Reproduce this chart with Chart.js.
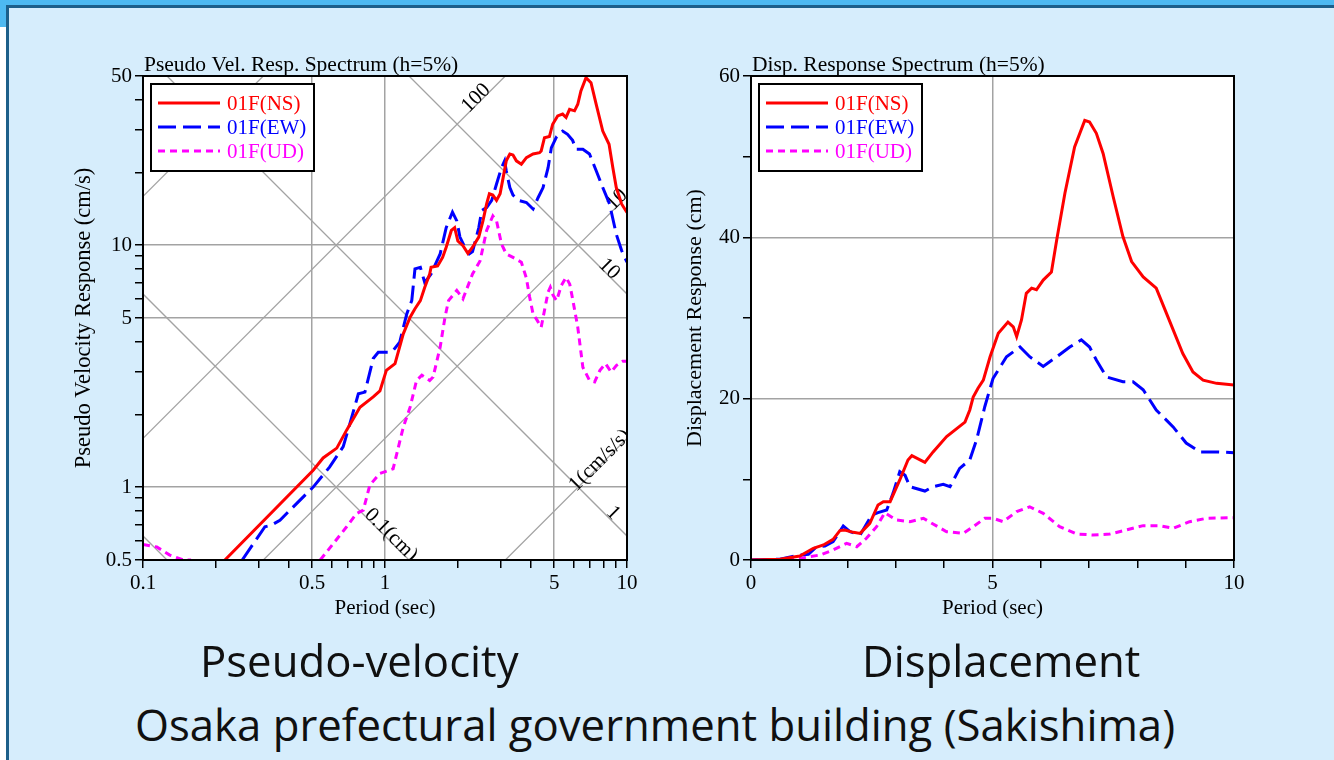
<!DOCTYPE html>
<html>
<head>
<meta charset="utf-8">
<title>Response spectra</title>
<script src="https://cdn.jsdelivr.net/npm/chart.js@4.4.1/dist/chart.umd.min.js"></script>
<style>
  html, body { margin: 0; padding: 0; }
  body { width: 1334px; height: 760px; overflow: hidden; background: #ffffff; position: relative; font-family: 'Open Sans', sans-serif; }
  #topband { position: absolute; left: 0; top: 0; width: 1334px; height: 8px; background: #4db9f1; }
  #leftband { position: absolute; left: 0; top: 0; width: 8px; height: 27px; background: #4db9f1; }
  #panel { position: absolute; left: 6px; top: 5px; right: 0; bottom: 0; background: #d6edfc; border-top: 3px solid #1c5f8a; border-left: 3px solid #1c5f8a; }
  canvas { position: absolute; }
  #pv { left: 40px; top: 40px; }
  #ds { left: 650px; top: 40px; }
  .cap { position: absolute; color: #101010; font-size: 43.7px; line-height: 43px; white-space: nowrap; }
</style>
</head>
<body>
<div id="topband"></div>
<div id="leftband"></div>
<div id="panel"></div>
<canvas id="pv" width="620" height="600"></canvas>
<canvas id="ds" width="620" height="600"></canvas>
<div class="cap" style="left:200px; top:639px;">Pseudo-velocity</div>
<div class="cap" style="left:862px; top:639px;">Displacement</div>
<div class="cap" style="left:135px; top:703px;">Osaka prefectural government building (Sakishima)</div>

<script>
// ---- Pseudo velocity response spectrum (h=5%), period in sec, Sv in cm/s ----
const pvPeriodNS = [0.218, 0.505, 0.555, 0.632, 0.694, 0.788, 0.894, 0.953, 1.013, 1.10, 1.19, 1.27, 1.33, 1.40, 1.46, 1.53, 1.55, 1.65, 1.73, 1.79, 1.88, 1.94, 2.0, 2.10, 2.20, 2.30, 2.44, 2.54, 2.63, 2.70, 2.79, 2.89, 2.99, 3.08, 3.17, 3.28, 3.38, 3.49, 3.66, 3.84, 4.09, 4.35, 4.42, 4.56, 4.78, 4.93, 5.17, 5.42, 5.6, 5.79, 6.07, 6.26, 6.45, 6.77, 7.1, 7.46, 7.94, 8.43, 8.74, 9.03, 9.5, 10.0];
const pvNS       = [0.5, 1.175, 1.32, 1.45, 1.72, 2.14, 2.36, 2.5, 3.04, 3.24, 4.3, 5.04, 5.46, 5.9, 6.7, 7.6, 8.1, 8.2, 8.9, 9.8, 11.5, 11.8, 10.4, 9.95, 9.25, 9.8, 10.8, 12.6, 14.8, 16.3, 16.1, 15.3, 16.3, 19.1, 22.3, 23.8, 23.6, 22.3, 21.6, 23.0, 23.8, 24.1, 24.5, 27.8, 28.1, 31.6, 34.2, 34.8, 33.7, 36.4, 35.9, 38.2, 43.4, 49.2, 46.9, 38.2, 29.6, 26.1, 20.9, 17.3, 14.8, 13.65];

const pvPeriodEW = [0.257, 0.319, 0.34, 0.368, 0.432, 0.506, 0.59, 0.672, 0.716, 0.776, 0.826, 0.894, 0.938, 1.05, 1.08, 1.15, 1.23, 1.29, 1.33, 1.40, 1.46, 1.55, 1.69, 1.79, 1.9, 1.98, 2.04, 2.14, 2.23, 2.30, 2.44, 2.51, 2.63, 2.76, 2.89, 3.03, 3.12, 3.17, 3.28, 3.38, 3.6, 3.84, 4.09, 4.29, 4.5, 4.72, 4.87, 5.12, 5.42, 5.68, 5.96, 6.16, 6.57, 7.0, 7.46, 7.94, 8.47, 9.03, 9.5, 10.0];
const pvEW       = [0.5, 0.686, 0.697, 0.73, 0.857, 1.003, 1.21, 1.47, 1.83, 2.43, 2.47, 3.4, 3.61, 3.61, 3.67, 3.97, 5.2, 5.9, 7.98, 8.1, 7.0, 7.6, 9.2, 11.8, 13.7, 12.6, 10.8, 9.8, 9.2, 9.4, 11.8, 13.9, 14.3, 15.3, 17.9, 20.9, 22.3, 20.3, 17.3, 16.1, 15.26, 15.0, 14.1, 15.7, 17.3, 20.9, 25.3, 28.1, 29.6, 28.7, 27.1, 24.9, 24.9, 23.8, 20.3, 17.3, 14.8, 11.1, 9.5, 8.5];

// null marks the stretch where the UD curve runs below the 0.5 cm/s floor
const pvPeriodUD = [0.1, 0.114, 0.129, 0.147, 0.158, 0.3, 0.54, 0.612, 0.694, 0.763, 0.813, 0.866, 0.953, 1.08, 1.19, 1.27, 1.35, 1.42, 1.53, 1.58, 1.69, 1.77, 1.83, 1.98, 2.10, 2.30, 2.47, 2.63, 2.79, 2.89, 3.03, 3.17, 3.38, 3.66, 3.84, 3.96, 4.09, 4.25, 4.42, 4.56, 4.72, 4.82, 4.95, 5.12, 5.35, 5.6, 5.8, 5.96, 6.26, 6.57, 7.0, 7.35, 7.73, 8.15, 8.6, 9.03, 9.6, 10.0];
const pvUD       = [0.58, 0.566, 0.524, 0.5, 0.5, null, 0.5, 0.585, 0.686, 0.778, 0.803, 1.02, 1.14, 1.19, 1.77, 2.14, 2.76, 2.9, 2.76, 2.85, 3.79, 5.04, 5.9, 6.5, 6.0, 7.6, 8.6, 11.5, 13.2, 12.6, 10.1, 9.2, 8.9, 8.5, 7.3, 6.1, 5.2, 4.9, 4.58, 5.37, 6.4, 6.7, 6.2, 5.9, 6.8, 7.36, 6.9, 6.0, 4.58, 3.13, 2.76, 2.72, 3.04, 3.24, 2.99, 3.18, 3.31, 3.31];

// ---- Displacement response spectrum (h=5%), period in sec, Sd in cm ----
const dsPeriodNS = [0, 0.6, 1.01, 1.29, 1.5, 1.70, 1.84, 1.94, 2.12, 2.26, 2.46, 2.63, 2.74, 2.88, 3.08, 3.25, 3.33, 3.6, 3.77, 4.05, 4.43, 4.53, 4.6, 4.70, 4.81, 4.95, 5.12, 5.32, 5.43, 5.50, 5.6, 5.70, 5.81, 5.91, 6.05, 6.22, 6.33, 6.5, 6.70, 6.91, 7.01, 7.15, 7.29, 7.50, 7.70, 7.88, 8.12, 8.39, 8.60, 8.94, 9.15, 9.36, 9.64, 10.0];
const dsNS       = [0, 0.09, 0.5, 1.45, 1.86, 2.56, 3.64, 3.72, 3.43, 3.3, 4.55, 6.82, 7.23, 7.23, 9.92, 12.4, 12.93, 12.1, 13.4, 15.3, 17.1, 18.6, 20.2, 21.3, 22.3, 25.2, 28.1, 29.5, 28.9, 27.7, 29.75, 33.06, 33.7, 33.5, 34.7, 35.7, 39.7, 45.5, 51.2, 54.5, 54.3, 52.9, 50.4, 45.0, 40.1, 37.0, 35.1, 33.7, 30.6, 25.6, 23.3, 22.3, 21.9, 21.7];

const dsPeriodEW = [0, 0.6, 1.01, 1.19, 1.36, 1.53, 1.70, 1.91, 2.05, 2.26, 2.50, 2.63, 2.81, 2.94, 3.08, 3.19, 3.29, 3.6, 3.77, 3.98, 4.12, 4.32, 4.53, 4.67, 4.84, 5.01, 5.29, 5.57, 5.77, 6.05, 6.33, 6.6, 6.84, 7.01, 7.15, 7.36, 7.7, 7.91, 8.12, 8.39, 8.74, 9.01, 9.29, 9.64, 10.0];
const dsEW       = [0, 0.1, 0.62, 0.70, 1.65, 1.74, 2.27, 4.21, 3.51, 3.1, 5.58, 5.87, 6.2, 8.26, 10.95, 10.5, 9.09, 8.55, 9.09, 9.38, 9.09, 11.36, 12.4, 14.9, 19.0, 22.5, 25.2, 26.4, 25.2, 24.0, 25.2, 26.4, 27.3, 26.4, 24.8, 22.7, 22.1, 22.1, 21.1, 18.6, 16.5, 14.5, 13.4, 13.4, 13.3];

const dsPeriodUD = [0, 0.6, 1.01, 1.43, 1.70, 1.98, 2.19, 2.39, 2.60, 2.77, 3.01, 3.29, 3.57, 3.77, 4.05, 4.39, 4.6, 4.84, 5.01, 5.22, 5.5, 5.77, 6.05, 6.39, 6.74, 7.08, 7.43, 7.77, 8.12, 8.46, 8.74, 9.08, 9.43, 10.0];
const dsUD       = [0, 0.05, 0.2, 0.62, 1.24, 2.07, 1.65, 2.69, 4.13, 5.87, 4.96, 4.75, 5.17, 4.46, 3.51, 3.3, 4.13, 5.17, 5.17, 4.75, 6.0, 6.6, 5.78, 4.13, 3.22, 3.1, 3.22, 3.72, 4.26, 4.26, 3.93, 4.75, 5.17, 5.25];

// ---- axis ticks, labels and grid values ----
const pvPeriodTicks  = [0.1, 0.2, 0.3, 0.4, 0.5, 0.6, 0.7, 0.8, 0.9, 1, 2, 3, 4, 5, 6, 7, 8, 9, 10];
const pvPeriodLabels = [0.1, 0.5, 1, 5, 10];
const pvPeriodGrid   = [0.5, 1, 5];
const pvVelTicks     = [0.5, 0.6, 0.7, 0.8, 0.9, 1, 2, 3, 4, 5, 6, 7, 8, 9, 10, 20, 30, 40, 50];
const pvVelLabels    = [0.5, 1, 5, 10, 50];
const pvVelGrid      = [1, 5, 10];

const dsPeriodTicks  = [0, 1, 2, 3, 4, 5, 6, 7, 8, 9, 10];
const dsPeriodLabels = [0, 5, 10];
const dsPeriodGrid   = [5];
const dsDispTicks    = [0, 10, 20, 30, 40, 50, 60];
const dsDispLabels   = [0, 20, 40, 60];
const dsDispGrid     = [20, 40];

// tripartite guide lines: constant displacement (cm) and constant acceleration (cm/s/s)
const guideDisp  = [0.01, 0.1, 1, 10];
const guideAccel = [1, 10, 100, 1000];

const seriesNames = ['01F(NS)', '01F(EW)', '01F(UD)'];

// ---------------------------------------------------------------------
const SERIF = "'Liberation Serif', 'Times New Roman', serif";
Chart.defaults.font.family = SERIF;
Chart.defaults.font.size = 21;
Chart.defaults.color = '#000000';

const SERIES_STYLE = [
  { color: '#ff0000', dash: [] },
  { color: '#0000ff', dash: [18, 7] },
  { color: '#ff00ff', dash: [7, 5] }
];
const GRID_COLOR = '#a3a3a3';

const toPoints = (xs, ys) => xs.map((x, i) => ({ x: x, y: ys[i] }));

function makeDatasets(sets) {
  return sets.map((pts, i) => ({
    label: seriesNames[i],
    data: pts,
    borderColor: SERIES_STYLE[i].color,
    borderDash: SERIES_STYLE[i].dash,
    borderWidth: 3,
    pointRadius: 0,
    fill: false,
    tension: 0,
    spanGaps: false,
    clip: 0
  }));
}

function makeAxis(o) {
  return {
    type: o.type,
    position: o.position,
    min: o.min,
    max: o.max,
    afterBuildTicks: s => { s.ticks = o.ticks.map(v => ({ value: v })); },
    afterFit: s => { if (o.position === 'left') s.width = o.size; else s.height = o.size; },
    grid: {
      color: c => (c.tick && o.grid.includes(c.tick.value)) ? GRID_COLOR : 'rgba(0,0,0,0)',
      lineWidth: 1.5,
      drawTicks: true,
      tickColor: '#000000',
      tickLength: 8,
      tickWidth: 1.5
    },
    border: { display: true, color: '#000000', width: 2 },
    ticks: {
      autoSkip: false,
      maxRotation: 0,
      padding: o.tickPad,
      color: '#000000',
      font: { size: 21 },
      callback: v => o.labels.includes(v) ? String(v) : ''
    },
    title: { display: true, text: o.title, color: '#000000', font: { size: o.titleSize }, padding: o.titlePad }
  };
}

// white plot area, black frame, heading and the boxed legend
function framePlugin(heading) {
  return {
    id: 'frame',
    beforeDraw(chart) {
      const a = chart.chartArea, ctx = chart.ctx;
      ctx.save();
      ctx.fillStyle = '#ffffff';
      ctx.fillRect(a.left, a.top, a.right - a.left, a.bottom - a.top);
      ctx.restore();
    },
    afterDatasetsDraw(chart) {
      const a = chart.chartArea, ctx = chart.ctx;
      ctx.save();
      ctx.strokeStyle = '#000000';
      ctx.lineWidth = 2;
      ctx.strokeRect(a.left, a.top, a.right - a.left, a.bottom - a.top);
      ctx.restore();
    },
    afterDraw(chart) {
      const a = chart.chartArea, ctx = chart.ctx;
      ctx.save();
      ctx.fillStyle = '#000000';
      ctx.font = '21.5px ' + SERIF;
      ctx.textAlign = 'left';
      ctx.textBaseline = 'alphabetic';
      ctx.fillText(heading, a.left + 1, a.top - 5);

      const bx = a.left + 8, by = a.top + 8, bw = 163, bh = 87;
      ctx.fillStyle = '#ffffff';
      ctx.fillRect(bx, by, bw, bh);
      ctx.strokeStyle = '#000000';
      ctx.lineWidth = 2;
      ctx.strokeRect(bx, by, bw, bh);
      ctx.font = '21px ' + SERIF;
      ctx.textBaseline = 'middle';
      chart.data.datasets.forEach((ds, i) => {
        const y = a.top + 27 + i * 24;
        ctx.beginPath();
        ctx.setLineDash(SERIES_STYLE[i].dash);
        ctx.strokeStyle = SERIES_STYLE[i].color;
        ctx.lineWidth = 3;
        ctx.moveTo(a.left + 15, y);
        ctx.lineTo(a.left + 77, y);
        ctx.stroke();
        ctx.setLineDash([]);
        ctx.fillStyle = SERIES_STYLE[i].color;
        ctx.fillText(ds.label, a.left + 84, y + 1);
      });
      ctx.restore();
    }
  };
}

// diagonal constant-Sd / constant-Sa lines of the tripartite chart
const tripartitePlugin = {
  id: 'tripartite',
  beforeDatasetsDraw(chart) {
    const a = chart.chartArea, ctx = chart.ctx;
    const xs = chart.scales.x, ys = chart.scales.y;
    const TWO_PI = 2 * Math.PI;
    const svDisp = (sd, t) => TWO_PI * sd / t;
    const svAccel = (sa, t) => sa * t / TWO_PI;
    ctx.save();
    ctx.beginPath();
    ctx.rect(a.left, a.top, a.right - a.left, a.bottom - a.top);
    ctx.clip();
    ctx.strokeStyle = GRID_COLOR;
    ctx.lineWidth = 1.3;
    const t0 = 0.01, t1 = 100;
    guideDisp.forEach(sd => {
      ctx.beginPath();
      ctx.moveTo(xs.getPixelForValue(t0), ys.getPixelForValue(svDisp(sd, t0)));
      ctx.lineTo(xs.getPixelForValue(t1), ys.getPixelForValue(svDisp(sd, t1)));
      ctx.stroke();
    });
    guideAccel.forEach(sa => {
      ctx.beginPath();
      ctx.moveTo(xs.getPixelForValue(t0), ys.getPixelForValue(svAccel(sa, t0)));
      ctx.lineTo(xs.getPixelForValue(t1), ys.getPixelForValue(svAccel(sa, t1)));
      ctx.stroke();
    });

    // labels written along their lines, nudged off the line
    const marks = [
      { kind: 'a', v: 100, text: '100',       t: 2.46,  d: 5 },
      { kind: 'a', v: 10,  text: '10',        t: 9.38,  d: 4.7 },
      { kind: 'a', v: 1,   text: '1(cm/s/s)', t: 7.92,  d: 3.5 },
      { kind: 'd', v: 10,  text: '10',        t: 8.15,  d: 5 },
      { kind: 'd', v: 1,   text: '1',         t: 8.39,  d: 6.4 },
      { kind: 'd', v: 0.1, text: '0.1(cm)',   t: 1.024, d: 5 }
    ];
    ctx.fillStyle = '#000000';
    ctx.font = '21px ' + SERIF;
    ctx.textAlign = 'center';
    ctx.textBaseline = 'middle';
    const k = Math.SQRT1_2;
    marks.forEach(m => {
      const sv = m.kind === 'a' ? svAccel(m.v, m.t) : svDisp(m.v, m.t);
      let px = xs.getPixelForValue(m.t), py = ys.getPixelForValue(sv);
      let ang;
      if (m.kind === 'a') { px -= m.d * k; py -= m.d * k; ang = -Math.PI / 4; }
      else { px += m.d * k; py -= m.d * k; ang = Math.PI / 4; }
      ctx.save();
      ctx.translate(px, py);
      ctx.rotate(ang);
      ctx.fillText(m.text, 0, 0);
      ctx.restore();
    });
    ctx.restore();
  }
};

new Chart(document.getElementById('pv'), {
  type: 'line',
  data: {
    datasets: makeDatasets([
      toPoints(pvPeriodNS, pvNS),
      toPoints(pvPeriodEW, pvEW),
      toPoints(pvPeriodUD, pvUD)
    ])
  },
  options: {
    responsive: false,
    animation: false,
    events: [],
    layout: { padding: { top: 36, right: 33, bottom: 10, left: 0 } },
    plugins: { legend: { display: false }, tooltip: { enabled: false } },
    scales: {
      x: makeAxis({ type: 'logarithmic', position: 'bottom', min: 0.1, max: 10, ticks: pvPeriodTicks, labels: pvPeriodLabels, grid: pvPeriodGrid, size: 70, tickPad: 3, title: 'Period (sec)', titleSize: 21, titlePad: { top: 0, bottom: 9.4 } }),
      y: makeAxis({ type: 'logarithmic', position: 'left', min: 0.5, max: 50, ticks: pvVelTicks, labels: pvVelLabels, grid: pvVelGrid, size: 103, tickPad: 3, title: 'Pseudo Velocity Response (cm/s)', titleSize: 22.5, titlePad: { top: 30.5, bottom: 0 } })
    }
  },
  plugins: [framePlugin('Pseudo Vel. Resp. Spectrum (h=5%)'), tripartitePlugin]
});

new Chart(document.getElementById('ds'), {
  type: 'line',
  data: {
    datasets: makeDatasets([
      toPoints(dsPeriodNS, dsNS),
      toPoints(dsPeriodEW, dsEW),
      toPoints(dsPeriodUD, dsUD)
    ])
  },
  options: {
    responsive: false,
    animation: false,
    events: [],
    layout: { padding: { top: 36, right: 36, bottom: 10, left: 0 } },
    plugins: { legend: { display: false }, tooltip: { enabled: false } },
    scales: {
      x: makeAxis({ type: 'linear', position: 'bottom', min: 0, max: 10, ticks: dsPeriodTicks, labels: dsPeriodLabels, grid: dsPeriodGrid, size: 70, tickPad: 3, title: 'Period (sec)', titleSize: 21, titlePad: { top: 0, bottom: 9.4 } }),
      y: makeAxis({ type: 'linear', position: 'left', min: 0, max: 60, ticks: dsDispTicks, labels: dsDispLabels, grid: dsDispGrid, size: 101, tickPad: 3, title: 'Displacement Response (cm)', titleSize: 22, titlePad: { top: 31.8, bottom: 0 } })
    }
  },
  plugins: [framePlugin('Disp. Response Spectrum (h=5%)')]
});
</script>
</body>
</html>
